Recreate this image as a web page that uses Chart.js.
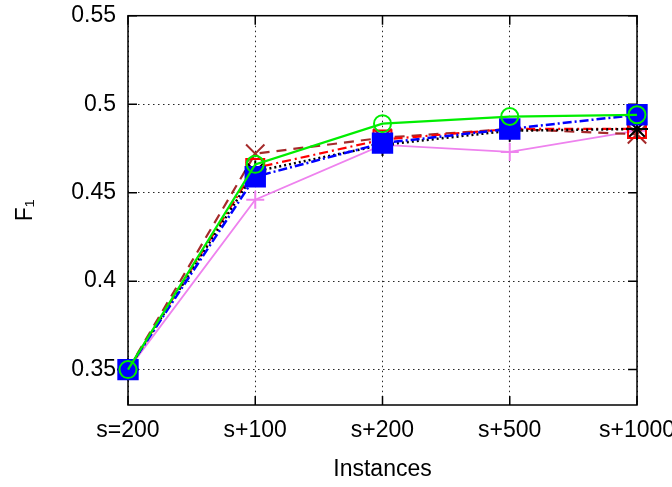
<!DOCTYPE html>
<html>
<head>
<meta charset="utf-8">
<script src="https://cdn.jsdelivr.net/npm/chart.js@4/dist/chart.umd.min.js"></script>
<style>
  html, body { margin: 0; padding: 0; background: #fff; overflow: hidden; }
  canvas { display: block; }
</style>
</head>
<body>
<canvas id="c" width="672" height="487"></canvas>
<script>
// ---- data ----
const categories = ['s=200', 's+100', 's+200', 's+500', 's+1000'];
const yTickValues = [0.35, 0.4, 0.45, 0.5, 0.55];

const violetPlus   = [0.35, 0.446, 0.477, 0.473, 0.485];
const brownCross   = [0.35, 0.472, 0.481, 0.486, 0.483];
const redSquare    = [0.35, 0.464, 0.480, 0.486, 0.486];
const blackStar    = [0.35, 0.462, 0.477, 0.485, 0.486];
const blueSquare   = [0.35, 0.459, 0.478, 0.486, 0.494];
const greenCircle  = [0.35, 0.466, 0.489, 0.493, 0.494];

Chart.defaults.font.family = "'Liberation Sans', Arial, sans-serif";
Chart.defaults.font.size = 23;
Chart.defaults.color = '#000';

const frame = {
  id: 'frame',
  beforeDatasetsDraw(chart) {
    const { ctx, chartArea: a, scales: { x, y } } = chart;
    ctx.save();
    ctx.strokeStyle = '#000';
    ctx.lineWidth = 1.5;
    ctx.strokeRect(a.left, a.top, a.right - a.left, a.bottom - a.top);
    ctx.beginPath();
    const L = 9;
    x.ticks.forEach((t, i) => {
      const px = x.getPixelForTick(i);
      ctx.moveTo(px, a.bottom); ctx.lineTo(px, a.bottom - L);
      ctx.moveTo(px, a.top); ctx.lineTo(px, a.top + L);
    });
    y.ticks.forEach(t => {
      const py = y.getPixelForValue(t.value);
      ctx.moveTo(a.left, py); ctx.lineTo(a.left + L, py);
      ctx.moveTo(a.right, py); ctx.lineTo(a.right - L, py);
    });
    ctx.stroke();
    ctx.restore();
  }
};

function ds(data, color, dash, style, radius, width, fill, order) {
  return {
    data,
    borderColor: color,
    borderWidth: width,
    borderDash: dash,
    pointStyle: style,
    pointRadius: radius,
    pointHoverRadius: radius,
    pointBorderColor: color,
    pointBackgroundColor: fill ? color : 'rgba(0,0,0,0)',
    pointBorderWidth: 2,
    tension: 0,
    fill: false,
    clip: false,
    order
  };
}

new Chart(document.getElementById('c'), {
  type: 'line',
  data: {
    labels: categories,
    datasets: [
      ds(violetPlus, '#ee82ee', [], 'cross', 9, 1.8, false, 5),
      ds(brownCross, '#a52a2a', [10, 7], 'crossRot', 13, 2.2, false, 4),
      ds(redSquare, '#ff0000', [9, 4, 2, 4], 'rect', 12.7, 2.2, false, 3),
      ds(blackStar, '#000000', [2, 3], 'star', 11, 2.5, false, 2),
      ds(blueSquare, '#0000ff', [9, 3, 2, 3], 'rect', 13.7, 2.5, true, 1),
      ds(greenCircle, '#00ee00', [], 'circle', 8.5, 2.2, false, 0)
    ]
  },
  options: {
    responsive: false,
    animation: false,
    devicePixelRatio: 1,
    events: [],
    layout: { padding: { left: 0, right: 35, top: 15, bottom: 0 } },
    plugins: { legend: { display: false }, tooltip: { enabled: false } },
    scales: {
      x: {
        offset: false,
        grid: { color: 'rgba(0,0,0,0.85)', lineWidth: 1, drawTicks: false },
        border: { display: false, dash: [1.5, 3.5] },
        ticks: { padding: 12, maxRotation: 0, autoSkip: false },
        title: { display: true, text: 'Instances', padding: { top: 0, bottom: 4 } },
        afterFit(s) { s.height = 82; s.paddingLeft = 0; s.paddingRight = 0; }
      },
      y: {
        min: 0.33,
        max: 0.55,
        grid: { color: 'rgba(0,0,0,0.85)', lineWidth: 1, drawTicks: false },
        border: { display: false, dash: [1.5, 3.5] },
        afterBuildTicks(s) { s.ticks = yTickValues.map(v => ({ value: v })); },
        ticks: { padding: 12, callback: v => String(Math.round(v * 100) / 100) },
        title: { display: true, text: 'F₁', padding: { top: 12, bottom: 0 } },
        afterFit(s) { s.width = 128; s.paddingTop = 0; s.paddingBottom = 0; }
      }
    }
  },
  plugins: [frame]
});
</script>
</body>
</html>
